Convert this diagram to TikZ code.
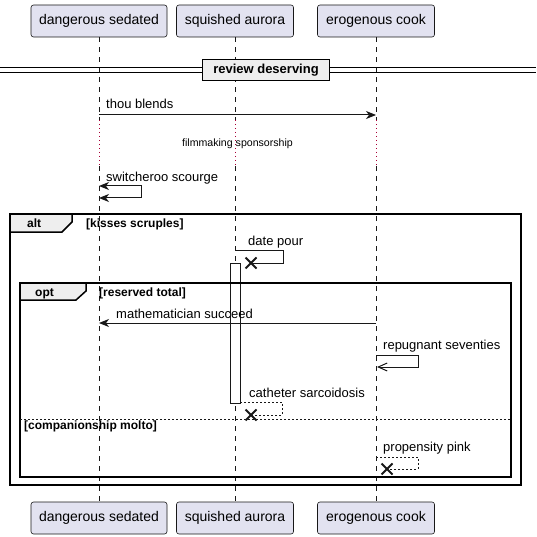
\documentclass[tikz,border=0pt]{standalone}
\usepackage{fontspec}
\setmainfont{Liberation Sans}
\usetikzlibrary{arrows.meta}
\definecolor{partfill}{HTML}{E2E2F0}
\definecolor{ink}{HTML}{181818}
\definecolor{grpfill}{HTML}{EEEEEE}
\definecolor{delaycol}{HTML}{A80036}
\begin{document}
\begin{tikzpicture}[x=1pt,y=-1pt,
  part/.style={draw=ink, fill=partfill, rounded corners=2.5pt, line width=0.6pt,
    minimum height=32pt, inner sep=0pt, font=\fontsize{14}{16}\selectfont},
  life/.style={draw=ink, line width=0.5pt, dash pattern=on 5pt off 5pt},
  delayline/.style={draw=delaycol, line width=0.9pt, dash pattern=on 1pt off 3pt},
  msg/.style={draw=ink, line width=1pt},
  dmsg/.style={draw=ink, line width=1pt, dash pattern=on 2pt off 2pt},
  fill tip/.style={-{Stealth[length=10pt,width=8pt,inset=3pt]}},
  open tip/.style={-{Straight Barb[length=9pt,width=8pt]}},
  lbl/.style={anchor=base west, inner sep=0pt, font=\fontsize{13}{15}\selectfont},
  glbl/.style={anchor=base west, inner sep=0pt, font=\fontsize{12}{14}\selectfont\bfseries},
  frame/.style={draw=black, line width=1.5pt},
  tab/.style={draw=black, line width=1.5pt, fill=grpfill},
  xmark/.style={draw=ink, line width=2pt}
]
\path[use as bounding box] (0,0) rectangle (536,537);

% participants
\node[part, minimum width=136pt] (pA) at (99,21) {dangerous sedated};
\node[part, minimum width=117pt] (pB) at (235,21) {squished aurora};
\node[part, minimum width=117pt] (pC) at (376,21) {erogenous cook};
\node[part, minimum width=136pt] (qA) at (99,518) {dangerous sedated};
\node[part, minimum width=117pt] (qB) at (235,518) {squished aurora};
\node[part, minimum width=117pt] (qC) at (376,518) {erogenous cook};

% delay coordinates
\coordinate (dA1) at (99,120);  \coordinate (dA2) at (99,166);
\coordinate (dB1) at (235,120); \coordinate (dB2) at (235,166);
\coordinate (dC1) at (376,120); \coordinate (dC2) at (376,166);

% lifelines
\draw[life] (pA.south) -- (dA1);  \draw[life] (dA2) -- (qA.north);
\draw[life] (pB.south) -- (dB1);  \draw[life] (dB2) -- (qB.north);
\draw[life] (pC.south) -- (dC1);  \draw[life] (dC2) -- (qC.north);
\draw[delayline] (dA1) -- (dA2);
\draw[delayline] (dB1) -- (dB2);
\draw[delayline] (dC1) -- (dC2);

% separator
\coordinate (s1l) at (0,68);   \coordinate (s1r) at (536,68);
\coordinate (s2l) at (0,72.5); \coordinate (s2r) at (536,72.5);
\draw[line width=1pt] (s1l) -- (s1r);
\draw[line width=1pt] (s2l) -- (s2r);
\node[draw=black, line width=1.5pt, fill=grpfill, minimum width=127pt, minimum height=21pt,
  inner sep=0pt, font=\fontsize{13}{15}\selectfont\bfseries] (sep) at (266,70) {review deserving};

% message 1
\coordinate (m1a) at (99,115); \coordinate (m1b) at (376,115);
\draw[msg, fill tip] (m1a) -- (m1b);
\node[lbl] (l1) at (106,109) {thou blends};

% delay text
\node[inner sep=0pt, font=\fontsize{10.6}{13}\selectfont] (dl) at (237.5,144) {filmmaking sponsorship};

% switcheroo self message (both ends)
\coordinate (m2a) at (99,186); \coordinate (m2b) at (141,186);
\coordinate (m2c) at (141,198); \coordinate (m2d) at (99,198);
\draw[msg, {Stealth[length=10pt,width=8pt,inset=3pt]}-{Stealth[length=10pt,width=8pt,inset=3pt]}]
  (m2a) -- (m2b) -- (m2c) -- (m2d);
\node[lbl] (l2) at (106,182) {switcheroo scourge};

% activation bar
\node[draw=ink, fill=white, line width=0.8pt, minimum width=10pt, minimum height=140pt,
  inner sep=0pt] (act) at (235,333) {};

% frames
\draw[frame] (10,214) rectangle (521,485);
\draw[tab] (10,214) -- (72,214) -- (72,222) -- (62,232) -- (10,232) -- cycle;
\node[glbl] (altl) at (27,227) {alt};
\node[glbl] (altc) at (86,227) {[kisses scruples]};

\draw[frame] (20,283) rectangle (511,477);
\draw[tab] (20,283) -- (86,283) -- (86,291) -- (76,300) -- (20,300) -- cycle;
\node[glbl] (optl) at (35,296) {opt};
\node[glbl] (optc) at (99,296) {[reserved total]};

% else separator
\coordinate (e1) at (20,419); \coordinate (e2) at (511,419);
\draw[draw=ink, line width=0.8pt, dash pattern=on 2pt off 2pt] (e1) -- (e2);
\node[glbl] (elsec) at (24,429) {[companionship molto]};

% date pour
\coordinate (m3a) at (235,250); \coordinate (m3b) at (283,250);
\coordinate (m3c) at (283,263); \coordinate (x1) at (251,263);
\draw[msg] (m3a) -- (m3b) -- (m3c) -- (x1);
\draw[xmark] ([shift={(-5.5,-5.5)}]x1) -- ([shift={(5.5,5.5)}]x1);
\draw[xmark] ([shift={(-5.5,5.5)}]x1) -- ([shift={(5.5,-5.5)}]x1);
\node[lbl] (l3) at (248,245) {date pour};

% mathematician succeed
\coordinate (m4a) at (376,323); \coordinate (m4b) at (99,323);
\draw[msg, fill tip] (m4a) -- (m4b);
\node[lbl] (l4) at (116,318) {mathematician succeed};

% repugnant seventies
\coordinate (m5a) at (376,355); \coordinate (m5b) at (418,355);
\coordinate (m5c) at (418,367); \coordinate (m5d) at (377,367);
\draw[msg, open tip] (m5a) -- (m5b) -- (m5c) -- (m5d);
\node[lbl] (l5) at (383,349) {repugnant seventies};

% catheter sarcoidosis
\coordinate (m6a) at (240,402); \coordinate (m6b) at (282,402);
\coordinate (m6c) at (282,415); \coordinate (x2) at (251,415);
\draw[dmsg] (m6a) -- (m6b) -- (m6c) -- (x2);
\draw[xmark] ([shift={(-5.5,-5.5)}]x2) -- ([shift={(5.5,5.5)}]x2);
\draw[xmark] ([shift={(-5.5,5.5)}]x2) -- ([shift={(5.5,-5.5)}]x2);
\node[lbl] (l6) at (249,397) {catheter sarcoidosis};

% propensity pink
\coordinate (m7a) at (376,457); \coordinate (m7b) at (418,457);
\coordinate (m7c) at (418,469); \coordinate (x3) at (387,469);
\draw[dmsg] (m7a) -- (m7b) -- (m7c) -- (x3);
\draw[xmark] ([shift={(-5.5,-5.5)}]x3) -- ([shift={(5.5,5.5)}]x3);
\draw[xmark] ([shift={(-5.5,5.5)}]x3) -- ([shift={(5.5,-5.5)}]x3);
\node[lbl] (l7) at (383,451) {propensity pink};
\end{tikzpicture}
\end{document}
